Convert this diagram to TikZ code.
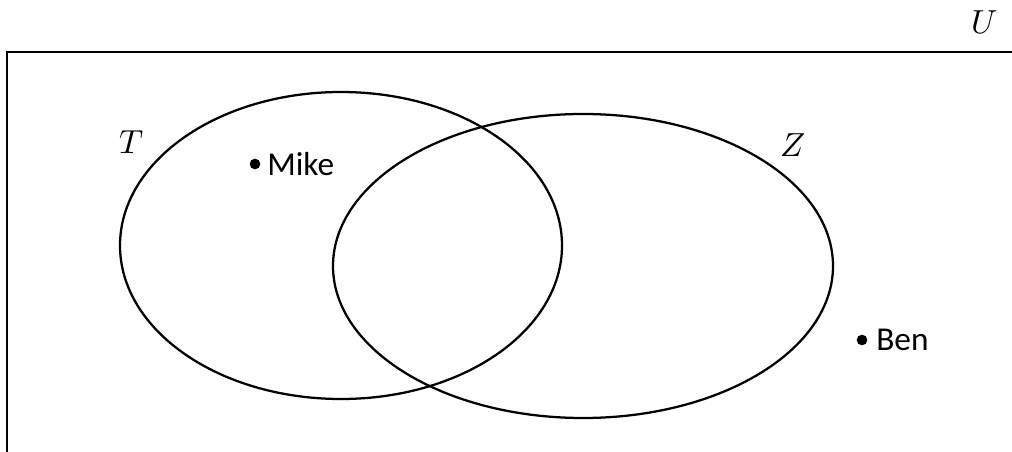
\documentclass[tikz,border=0pt]{standalone}
\usepackage{fontspec}
\setmainfont{Carlito}
\usepackage{unicode-math}
\setmathfont{Latin Modern Math}
\begin{document}
\begin{tikzpicture}[x=0.75pt,y=-0.75pt,
  setline/.style={line width=1.7pt},
  boxline/.style={line width=2pt},
  lbl/.style={font=\fontsize{25}{28}\selectfont, inner sep=0pt},
  dotnode/.style={circle, fill=black, inner sep=0pt, minimum size=8pt}]
\useasboundingbox (0,0) rectangle (1012,452);
\draw[boxline] (7,452) coordinate (bl) -- (7,52) coordinate (tl) -- (1012,52) coordinate (tr);
\draw[setline] (341,245.5) ellipse [x radius=221, y radius=153.5];
\draw[setline] (583,266) ellipse [x radius=250, y radius=152];
\node[lbl] (U) at (985,22) {$U$};
\node[lbl] (T) at (132,142) {$T$};
\node[lbl] (Z) at (793,145) {$Z$};
\node[dotnode] (mdot) at (255,164) {};
\node[lbl, anchor=west] (mike) at (267,164) {Mike};
\node[dotnode] (bdot) at (862,340) {};
\node[lbl, anchor=west] (ben) at (876,340) {Ben};
\end{tikzpicture}
\end{document}
